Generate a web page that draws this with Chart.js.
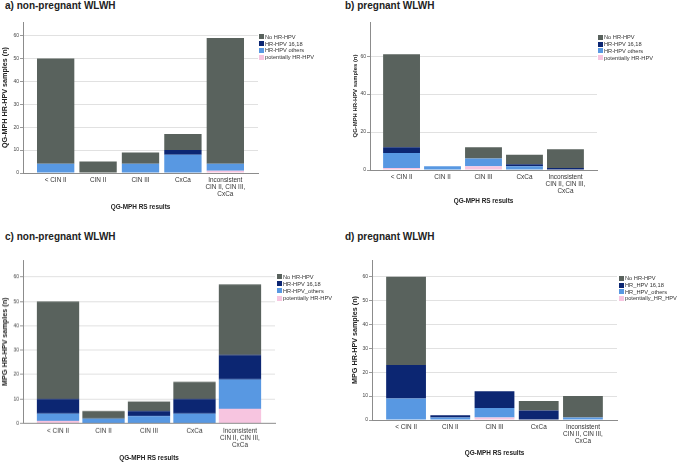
<!DOCTYPE html>
<html>
<head>
<meta charset="utf-8">
<script src="https://cdn.jsdelivr.net/npm/chart.js@4"></script>
<style>
  body { margin: 0; background: #fff; }
  #wrap { position: relative; width: 677px; height: 463px; overflow: hidden; font-family: "Liberation Sans", Arial, sans-serif; }
  canvas { position: absolute; }
  .head { position: absolute; font-weight: bold; font-size: 10px; color: #222; white-space: nowrap; }
  .legend { position: absolute; font-size: 5.7px; color: #333; white-space: nowrap; }
  .legend div { display: flex; align-items: center; }
  .legend span.box { display: inline-block; width: 5px; height: 5px; margin-right: 1px; }
</style>
</head>
<body>
<div id="wrap"></div>
<script>
const categories = ['< CIN II', 'CIN II', 'CIN III', 'CxCa', ['Inconsistent', 'CIN II, CIN III,', 'CxCa']];

const namesAB = ['No HR-HPV', 'HR-HPV 16,18', 'HR-HPV others', 'potentially HR-HPV'];
const namesC = ['No HR-HPV', 'HR-HPV 16,18', 'HR-HPV_others', 'potentially HR-HPV'];
const namesD = ['No HR-HPV', 'HR_HPV 16,18', 'HR_HPV_others', 'potentially_HR_HPV'];
const colors = ['#59625d', '#0c2672', '#5898e2', '#f7c5e0'];

// a) non-pregnant, QG-MPH
const aNoHr = [46, 5, 5, 7, 55];
const a1618 = [0, 0, 0, 2, 0];
const aOthers = [4, 0, 4, 8, 3];
const aPot = [0, 0, 0, 0, 1];
// b) pregnant, QG-MPH
const bNoHr = [49, 0, 6, 5, 10];
const b1618 = [3, 0, 0, 1, 1];
const bOthers = [8, 2, 4, 2, 0];
const bPot = [1, 0, 2, 0, 0];
// c) non-pregnant, MPG
const cNoHr = [40, 3, 4, 7, 29];
const c1618 = [6, 0, 2, 6, 10];
const cOthers = [3, 2, 3, 4, 12];
const cPot = [1, 0, 0, 0, 6];
// d) pregnant, MPG
const dNoHr = [37, 0, 0, 4, 9];
const d1618 = [14, 1, 7, 4, 0];
const dOthers = [9, 1, 4, 0, 1];
const dPot = [0, 0, 1, 0, 0];

const yTitleQG = 'QG-MPH HR-HPV samples (n)';
const yTitleMPG = 'MPG HR-HPV samples (n)';
const xTitle = 'QG-MPH RS results';

const FONT = '"Liberation Sans", Arial, sans-serif';
const wrap = document.getElementById('wrap');

const panels = [
  { head: 'a) non-pregnant WLWH', hx: 5, hy: 0, names: namesAB, series: [aNoHr, a1618, aOthers, aPot],
    yTitle: yTitleQG, yMax: 66, yStep: 10, left: 0, top: 10, plot: [23, 22, 258, 173],
    xTitleY: 207, yTitleX: 5.5, yTitleSize: 7.2, barPct: 0.88, legend: [259, 33.5, 6.8] },
  { head: 'b) pregnant WLWH', hx: 345, hy: 0, names: namesAB, series: [bNoHr, b1618, bOthers, bPot],
    yTitle: yTitleQG, yMax: 78, yStep: 20, left: 340, top: 10, plot: [370, 22, 597, 170],
    xTitleY: 201, yTitleX: 355, yTitleSize: 5.9, barPct: 0.9, legend: [598, 34, 6.8] },
  { head: 'c) non-pregnant WLWH', hx: 5, hy: 231, names: namesC, series: [cNoHr, c1618, cOthers, cPot],
    yTitle: yTitleMPG, yMax: 67, yStep: 10, left: 0, top: 248, plot: [23, 260, 275, 423],
    xTitleY: 457.5, yTitleX: 5.5, yTitleSize: 7.2, barPct: 0.93, legend: [277, 273, 7.2] },
  { head: 'd) pregnant WLWH', hx: 345, hy: 231, names: namesD, series: [dNoHr, d1618, dOthers, dPot],
    yTitle: yTitleMPG, yMax: 67, yStep: 10, left: 340, top: 248, plot: [372, 260, 617, 420],
    xTitleY: 453, yTitleX: 355, yTitleSize: 7.2, barPct: 0.9, legend: [619, 275, 6.7] }
];

panels.forEach(p => {
  const head = document.createElement('div');
  head.className = 'head';
  head.style.left = p.hx + 'px';
  head.style.top = p.hy + 'px';
  head.textContent = p.head;
  wrap.appendChild(head);

  const [pl, pt, pr, pb] = p.plot;
  const w = pr - p.left + 8;
  const h = p.xTitleY + 6 - p.top;
  const canvas = document.createElement('canvas');
  canvas.width = w;
  canvas.height = h;
  canvas.style.left = p.left + 'px';
  canvas.style.top = p.top + 'px';
  canvas.style.width = w + 'px';
  canvas.style.height = h + 'px';
  wrap.appendChild(canvas);

  // stacked bottom-up: potentially, others, 16/18, none
  const order = [3, 2, 1, 0];
  const datasets = order.map(k => ({
    label: p.names[k],
    data: p.series[k].map((v, i) => ({ x: i, y: v })),
    backgroundColor: colors[k],
    borderWidth: 0,
    barPercentage: p.barPct,
    categoryPercentage: 1
  }));

  const yLh = p.yTitleSize * 1.2;
  new Chart(canvas, {
    type: 'bar',
    data: { datasets },
    options: {
      responsive: false,
      animation: false,
      layout: { padding: { top: pt - p.top, right: 8, left: 0, bottom: 0 } },
      plugins: { legend: { display: false }, tooltip: { enabled: false } },
      scales: {
        x: {
          type: 'linear',
          stacked: true,
          offset: false,
          min: -0.77,
          max: 4.77,
          afterBuildTicks: s => { s.ticks = categories.map((c, i) => ({ value: i })); },
          afterFit: s => { s.height = p.top + h - pb; },
          grid: { display: false, drawTicks: false },
          border: { display: true, color: '#8c8c8c', width: 1 },
          ticks: {
            autoSkip: false, maxRotation: 0, padding: 4, color: '#333',
            font: { family: FONT, size: 6.4, lineHeight: 1.08 },
            callback: v => categories[v]
          },
          title: {
            display: true, text: xTitle, color: '#222',
            font: { family: FONT, size: 6.4, weight: 'bold' },
            padding: { top: 0, bottom: 6 - 6.4 * 0.6 }
          }
        },
        y: {
          stacked: true,
          min: 0,
          max: p.yMax,
          afterBuildTicks: s => { s.ticks = s.ticks.filter(t => t.value % p.yStep === 0); },
          afterFit: s => { s.width = pl - p.left; },
          grid: { color: '#e1e1e1', lineWidth: 1, drawTicks: true, tickLength: 3, tickColor: '#9a9a9a' },
          border: { display: true, color: '#8c8c8c', width: 1 },
          ticks: { stepSize: p.yStep, padding: 1, color: '#444', font: { family: FONT, size: 5 } },
          title: {
            display: true, text: p.yTitle, color: '#222',
            font: { family: FONT, size: p.yTitleSize, weight: 'bold' },
            padding: { top: p.yTitleX - p.left - yLh / 2, bottom: 0 }
          }
        }
      }
    }
  });

  const lg = document.createElement('div');
  lg.className = 'legend';
  lg.style.left = p.legend[0] + 'px';
  lg.style.top = p.legend[1] + 'px';
  p.names.forEach((name, k) => {
    const row = document.createElement('div');
    row.style.height = p.legend[2] + 'px';
    const box = document.createElement('span');
    box.className = 'box';
    box.style.background = colors[k];
    const txt = document.createElement('span');
    txt.textContent = name;
    row.appendChild(box);
    row.appendChild(txt);
    lg.appendChild(row);
  });
  wrap.appendChild(lg);
});
</script>
</body>
</html>
